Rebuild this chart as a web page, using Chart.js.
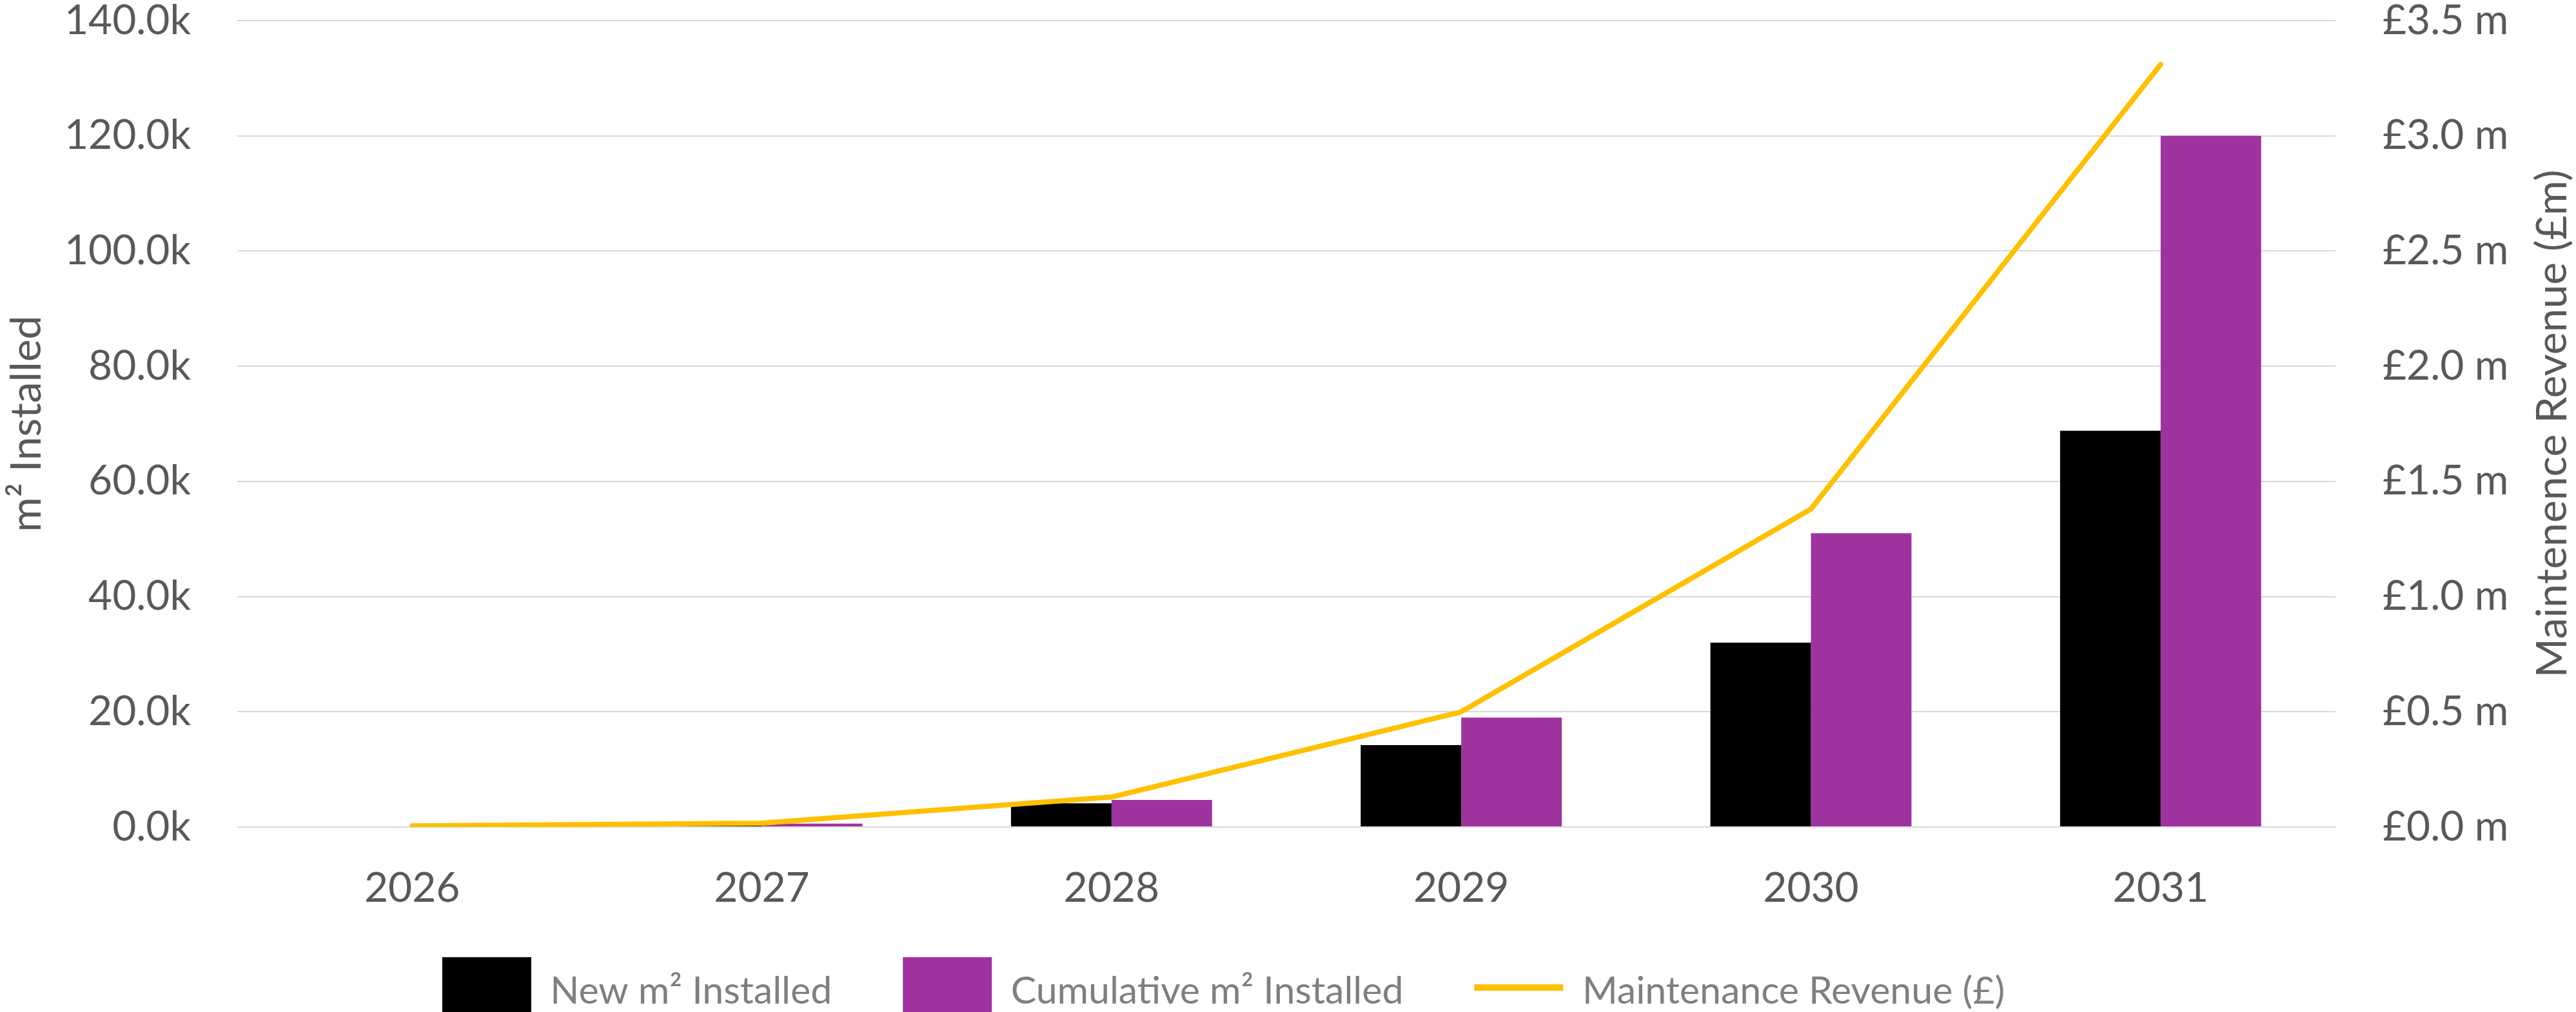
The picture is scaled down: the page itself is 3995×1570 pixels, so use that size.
<!DOCTYPE html>
<html>
<head>
<meta charset="utf-8">
<script src="https://cdn.jsdelivr.net/npm/chart.js@4.4.1/dist/chart.umd.min.js"></script>
<style>
    html, body { margin: 0; padding: 0; background: #ffffff; overflow: hidden; }
    #myChart { display: block; }
</style>
</head>
<body>
<canvas id="myChart" width="3995" height="1601"></canvas>
<script>
var years = ['2026', '2027', '2028', '2029', '2030', '2031'];
var newInstalled = [100, 500, 4100, 14200, 32000, 68800];
var cumulativeInstalled = [100, 600, 4700, 19000, 51000, 120000];
var maintenanceRevenue = [0.005, 0.017, 0.13, 0.5, 1.38, 3.31];
var seriesNames = ['New m\u00b2 Installed', 'Cumulative m\u00b2 Installed', 'Maintenance Revenue (\u00a3)'];
var rightTitle = 'Maintenence Revenue (\u00a3m)';

var FONT = 'Lato';
var AXIS_GREY = '#595959';

// yellow dash in the legend, right axis title read bottom-to-top
var extras = {
    id: 'extras',
    afterLayout: function (chart) {
        chart.legend.left -= 100;
        chart.legend.right -= 100;
    },
    afterDraw: function (chart) {
        var lg = chart.legend;
        var ctx = chart.ctx;
        for (var i = 0; i < lg.legendItems.length; i++) {
            if (lg.legendItems[i].datasetIndex !== 2) continue;
            var hb = lg.legendHitBoxes[i];
            ctx.save();
            ctx.fillStyle = '#FFC000';
            ctx.fillRect(hb.left, hb.top + 42, 138, 10);
            ctx.restore();
        }
        var s = chart.scales.y1;
        var area = chart.chartArea;
        ctx.save();
        ctx.translate(s.right - 36, (area.top + area.bottom) / 2);
        ctx.rotate(-Math.PI / 2);
        ctx.textAlign = 'center';
        ctx.textBaseline = 'middle';
        ctx.fillStyle = AXIS_GREY;
        ctx.font = '66px ' + FONT;
        ctx.fillText(rightTitle, 0, 0);
        ctx.restore();
    }
};

var myChart = document.getElementById('myChart');
var chart = new Chart(myChart, {
    type: 'bar',
    data: {
        labels: years,
        datasets: [{
            type: 'bar',
            label: seriesNames[0],
            data: newInstalled,
            backgroundColor: '#000000',
            borderWidth: 0,
            yAxisID: 'y',
            order: 1
        }, {
            type: 'bar',
            label: seriesNames[1],
            data: cumulativeInstalled,
            backgroundColor: '#9E339F',
            borderWidth: 0,
            yAxisID: 'y',
            order: 2
        }, {
            type: 'line',
            label: seriesNames[2],
            data: maintenanceRevenue,
            borderColor: '#FFC000',
            backgroundColor: '#FFC000',
            borderWidth: 8,
            borderCapStyle: 'round',
            borderJoinStyle: 'round',
            pointRadius: 0,
            tension: 0,
            fill: false,
            yAxisID: 'y1',
            order: 0
        }]
    },
    options: {
        responsive: false,
        maintainAspectRatio: false,
        animation: false,
        devicePixelRatio: 1,
        categoryPercentage: 0.575,
        barPercentage: 1,
        layout: { padding: { top: 32, left: 0, right: 0, bottom: 0 } },
        plugins: {
            tooltip: { enabled: false },
            legend: {
                position: 'bottom',
                labels: {
                    font: { family: FONT, size: 59 },
                    color: '#7F7F7F',
                    boxWidth: 138,
                    boxHeight: 106,
                    padding: 110,
                    sort: function (a, b) { return a.datasetIndex - b.datasetIndex; },
                    generateLabels: function (c) {
                        var items = Chart.defaults.plugins.legend.labels.generateLabels(c);
                        items.forEach(function (it) {
                            it.lineWidth = 0;
                            if (it.datasetIndex === 2) {
                                it.fillStyle = 'rgba(0,0,0,0)';
                                it.strokeStyle = 'rgba(0,0,0,0)';
                            }
                        });
                        return items;
                    }
                }
            }
        },
        scales: {
            x: {
                grid: { display: false },
                border: { display: false },
                ticks: {
                    color: AXIS_GREY,
                    font: { family: FONT, size: 64 },
                    padding: 49,
                    maxRotation: 0
                },
                afterFit: function (s) {
                    s.height = 92;
                    s._computeLabelArea = function () { return undefined; };
                }
            },
            y: {
                position: 'left',
                min: 0,
                max: 140000,
                grid: { color: '#D9D9D9', lineWidth: 2, drawTicks: false },
                border: { display: false },
                ticks: {
                    stepSize: 20000,
                    color: AXIS_GREY,
                    font: { family: FONT, size: 64 },
                    padding: 72,
                    callback: function (v) { return (v / 1000).toFixed(1) + 'k'; }
                },
                title: {
                    display: true,
                    text: 'm\u00b2 Installed',
                    color: AXIS_GREY,
                    font: { family: FONT, size: 66 },
                    padding: { top: 2, bottom: 0 }
                },
                afterFit: function (s) { s.width = 368; s.paddingTop = 0; s.paddingBottom = 0; }
            },
            y1: {
                position: 'right',
                min: 0,
                max: 3.5,
                grid: { drawOnChartArea: false, drawTicks: false },
                border: { display: false },
                ticks: {
                    stepSize: 0.5,
                    color: AXIS_GREY,
                    font: { family: FONT, size: 64 },
                    padding: 73,
                    callback: function (v) { return '\u00a3' + v.toFixed(1) + ' m'; }
                },
                afterFit: function (s) { s.width = 373; s.paddingTop = 0; s.paddingBottom = 0; }
            }
        }
    },
    plugins: [extras]
});
</script>
</body>
</html>
